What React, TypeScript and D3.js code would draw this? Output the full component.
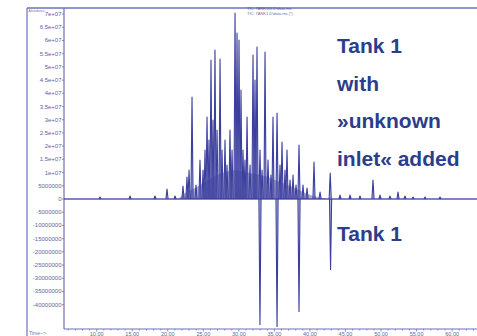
import React from "react";
import * as d3 from "d3";

// ---- Data ----
// Upper trace: "Tank 1 with unknown inlet added" — peak apex times (min) and abundances
const upperPeakTimes = [
  10.47, 14.69, 18.2, 19.89, 21.02, 22.14, 22.7, 22.99, 23.41, 23.97, 24.53, 24.96, 25.24,
  25.52, 25.8, 26.08, 26.36, 26.64, 26.93, 27.35, 27.63, 28.05, 28.33, 28.75, 29.04, 29.46,
  29.74, 30.02, 30.3, 30.58, 30.86, 31.15, 31.57, 31.99, 32.27, 32.55, 32.97, 33.26, 33.68,
  34.1, 34.52, 34.8, 35.37, 35.79, 36.07, 36.49, 36.77, 37.2, 37.62, 38.04, 38.46, 39.02,
  39.59, 40.57, 41.42, 42.85, 44.23, 45.64, 47.04, 48.87, 49.86, 51.26, 52.39, 53.37, 54.5,
  56.19, 58.3,
];
const upperPeakHeights = [
  0.76e6, 1.14e6, 1.14e6, 3.78e6, 1.14e6, 4.92e6, 8.32e6, 10.97e6, 38.59e6, 5.3e6, 14.76e6,
  10.97e6, 18.54e6, 31.02e6, 22.32e6, 52.59e6, 29.89e6, 56.37e6, 26.11e6, 52.97e6, 18.54e6,
  22.32e6, 12.86e6, 26.11e6, 18.54e6, 70.37e6, 62.81e6, 60.16e6, 41.24e6, 18.54e6, 14.76e6,
  31.02e6, 12.86e6, 54.48e6, 45.02e6, 57.51e6, 18.54e6, 10.97e6, 55.62e6, 14.76e6, 9.08e6,
  31.02e6, 32.54e6, 12.86e6, 21.57e6, 10.97e6, 18.54e6, 7.19e6, 9.08e6, 5.3e6, 20.43e6,
  5.3e6, 4.16e6, 14.0e6, 2.65e6, 9.84e6, 1.51e6, 1.51e6, 1.14e6, 7.19e6, 1.51e6, 1.14e6,
  2.65e6, 1.14e6, 0.76e6, 0.76e6, 0.76e6,
];
// Unresolved hump under the dense peak cluster
const humpTimes = [21.44, 22.42, 23.83, 25.24, 26.64, 28.05, 29.46, 30.86, 32.27, 33.68, 35.09, 36.49, 37.9, 39.31, 41.14, 42.82];
const humpLevels = [0, 2.3e6, 4.2e6, 6.4e6, 8.7e6, 10.2e6, 11.0e6, 10.2e6, 9.5e6, 8.7e6, 7.2e6, 5.7e6, 4.2e6, 2.3e6, 0.8e6, 0];

// Lower trace: "Tank 1" (plotted inverted)
const lowerPeakTimes = [32.97, 35.37, 38.46, 42.9];
const lowerPeakHeights = [-47.7e6, -48.4e6, -42.8e6, -26.9e6];

// Axis ticks
const upperTickValues = [70e6, 65e6, 60e6, 55e6, 50e6, 45e6, 40e6, 35e6, 30e6, 25e6, 20e6, 15e6, 10e6, 5e6, 0];
const upperTickLabels = ["7e+07", "6.5e+07", "6e+07", "5.5e+07", "5e+07", "4.5e+07", "4e+07", "3.5e+07", "3e+07", "2.5e+07", "2e+07", "1.5e+07", "1e+07", "5000000", "0"];
const lowerTickValues = [-5e6, -10e6, -15e6, -20e6, -25e6, -30e6, -35e6, -40e6];
const lowerTickLabels = ["-5000000", "-10000000", "-15000000", "-20000000", "-25000000", "-30000000", "-35000000", "-40000000"];
const timeTicks = [10, 15, 20, 25, 30, 35, 40, 45, 50, 55, 60];
const timeTickLabels = ["10.00", "15.00", "20.00", "25.00", "30.00", "35.00", "40.00", "45.00", "50.00", "55.00", "60.00"];

const labelUpper = ["Tank 1", "with", "»unknown", "inlet« added"];
const labelLower = "Tank 1";
const titleLines = ["TIC: TANK1UI.D\\data.ms", "TIC: TANK1.D\\data.ms (*)"];

const W = 477;
const H = 336;
const TRACE = "#3c3f9e";
const FRAME = "#6d70b8";
const TEXT = "#2b3d8b";

export default function App() {
  const x = d3.scaleLinear().domain([5.4, 63.5]).range([64, 477]);
  const y = d3.scaleLinear().domain([-49.2e6, 72.3e6]).range([329, 8]);

  const hw = 0.15;
  const line = d3
    .line<[number, number]>()
    .x((d) => x(d[0]))
    .y((d) => y(d[1]));

  const peakPath = (t: number, h: number) =>
    line([
      [t - hw, 0],
      [t, h],
      [t + hw, 0],
    ]) as string;

  const humpArea = d3
    .area<number>()
    .x((_, i) => x(humpTimes[i]))
    .y0(() => y(0))
    .y1((_, i) => y(humpLevels[i]))
    .curve(d3.curveMonotoneX);

  const minorTimes = d3.range(6, 64, 1);

  return (
    <svg
      width={W}
      height={H}
      style={{ position: "absolute", left: 0, top: 0, background: "#fff" }}
      fontFamily="'Liberation Sans', Arial, sans-serif"
    >
      <rect x={0} y={0} width={W} height={H} fill="#fff" />
      {/* frame */}
      <line x1={27} y1={8} x2={W} y2={8} stroke={FRAME} strokeWidth={1.4} />
      <line x1={27} y1={8} x2={27} y2={H} stroke={FRAME} strokeWidth={1.2} />
      {/* y axis */}
      <line x1={64} y1={8} x2={64} y2={329} stroke={FRAME} strokeWidth={1.2} />
      {/* x axis */}
      <line x1={64} y1={329} x2={W} y2={329} stroke={FRAME} strokeWidth={1.2} />
      {minorTimes.map((t) => (
        <line key={"m" + t} x1={x(t)} x2={x(t)} y1={329} y2={t % 5 === 0 ? 331.5 : 330.5} stroke={FRAME} strokeWidth={0.8} />
      ))}
      {timeTicks.map((t, i) => (
        <text key={"xt" + t} x={x(t)} y={335.5} fontSize={5.5} fill={TEXT} textAnchor="middle" opacity={0.8}>
          {timeTickLabels[i]}
        </text>
      ))}
      <text x={29} y={335} fontSize={5} fill={TEXT} opacity={0.7}>
        Time--&gt;
      </text>
      <text x={28.5} y={11.5} fontSize={3.2} fill={TEXT} opacity={0.7}>
        Abundance
      </text>

      {/* y ticks */}
      {upperTickValues.map((v, i) => (
        <g key={"yu" + i}>
          <line x1={62} x2={64} y1={y(v)} y2={y(v)} stroke={FRAME} strokeWidth={0.8} />
          <text x={61.5} y={y(v) + 2} fontSize={6} fill={TEXT} textAnchor="end" opacity={0.8}>
            {upperTickLabels[i]}
          </text>
        </g>
      ))}
      {lowerTickValues.map((v, i) => (
        <g key={"yl" + i}>
          <line x1={62} x2={64} y1={y(v)} y2={y(v)} stroke={FRAME} strokeWidth={0.8} />
          <text x={61.5} y={y(v) + 2} fontSize={6} fill={TEXT} textAnchor="end" opacity={0.8}>
            {lowerTickLabels[i]}
          </text>
        </g>
      ))}

      {/* title */}
      {titleLines.map((s, i) => (
        <text key={"tt" + i} x={247} y={10 + i * 4.5} fontSize={4} fill={TEXT} opacity={0.75}>
          {s}
        </text>
      ))}

      {/* hump */}
      <path d={humpArea(humpTimes) as string} fill={TRACE} opacity={0.42} />

      {/* baseline */}
      <line x1={64} x2={W} y1={y(0)} y2={y(0)} stroke={TRACE} strokeWidth={1.6} opacity={0.85} />

      {/* upper peaks */}
      {upperPeakTimes.map((t, i) => (
        <path
          key={"up" + i}
          d={peakPath(t, upperPeakHeights[i])}
          fill={TRACE}
          fillOpacity={0.35}
          stroke={TRACE}
          strokeWidth={1.1}
          strokeLinejoin="round"
        />
      ))}
      {/* lower peaks */}
      {lowerPeakTimes.map((t, i) => (
        <path
          key={"lp" + i}
          d={peakPath(t, lowerPeakHeights[i])}
          fill={TRACE}
          fillOpacity={0.35}
          stroke={TRACE}
          strokeWidth={1.1}
        />
      ))}

      {/* labels */}
      {labelUpper.map((s, i) => (
        <text key={"lb" + i} x={337} y={53 + i * 37.5} fontSize={21} fontWeight="bold" fill={TEXT}>
          {s}
        </text>
      ))}
      <text x={337} y={241} fontSize={21} fontWeight="bold" fill={TEXT}>
        {labelLower}
      </text>
    </svg>
  );
}
